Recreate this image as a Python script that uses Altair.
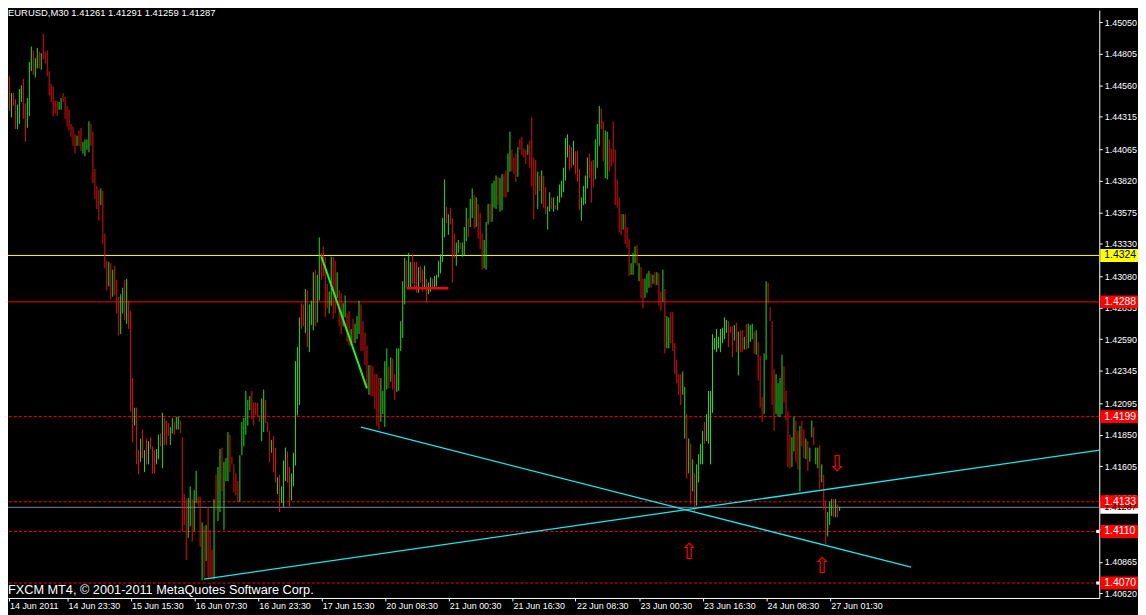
import altair as alt
import pandas as pd

# ---------------- data (EURUSD M30, one value per bar) ----------------
highs = [
    1.4463, 1.4466, 1.4465, 1.4463, 1.4450, 1.4450, 1.4445, 1.4441, 1.4453, 1.4456,
    1.4461, 1.4442, 1.4446, 1.4474, 1.4486, 1.4483, 1.4477, 1.4485, 1.4482, 1.4481,
    1.4496, 1.4482, 1.4483, 1.4467, 1.4457, 1.4455, 1.4444, 1.4444, 1.4443, 1.4446,
    1.4450, 1.4447, 1.4440, 1.4437, 1.4426, 1.4424, 1.4418, 1.4417, 1.4421, 1.4423,
    1.4412, 1.4414, 1.4414, 1.4428, 1.4426, 1.4420, 1.4391, 1.4378, 1.4375, 1.4376,
    1.4374, 1.4341, 1.4320, 1.4319, 1.4318, 1.4313, 1.4316, 1.4305, 1.4292, 1.4294,
    1.4299, 1.4305, 1.4306, 1.4289, 1.4281, 1.4229, 1.4206, 1.4206, 1.4173, 1.4182,
    1.4189, 1.4173, 1.4182, 1.4180, 1.4183, 1.4176, 1.4173, 1.4174, 1.4185, 1.4186,
    1.4202, 1.4198, 1.4196, 1.4194, 1.4191, 1.4198, 1.4195, 1.4199, 1.4199, 1.4196,
    1.4183, 1.4139, 1.4135, 1.4136, 1.4145, 1.4135, 1.4142, 1.4157, 1.4137, 1.4137,
    1.4117, 1.4114, 1.4115, 1.4129, 1.4111, 1.4096, 1.4135, 1.4154, 1.4160, 1.4174,
    1.4175, 1.4164, 1.4167, 1.4187, 1.4185, 1.4168, 1.4162, 1.4155, 1.4149, 1.4169,
    1.4195, 1.4198, 1.4219, 1.4212, 1.4215, 1.4219, 1.4210, 1.4210, 1.4210, 1.4200,
    1.4213, 1.4220, 1.4212, 1.4195, 1.4188, 1.4181, 1.4184, 1.4175, 1.4152, 1.4154,
    1.4145, 1.4165, 1.4175, 1.4172, 1.4160, 1.4155, 1.4171, 1.4242, 1.4253, 1.4276,
    1.4287, 1.4286, 1.4298, 1.4297, 1.4286, 1.4289, 1.4311, 1.4313, 1.4309, 1.4338,
    1.4326, 1.4331, 1.4323, 1.4302, 1.4296, 1.4323, 1.4323, 1.4320, 1.4311, 1.4297,
    1.4295, 1.4287, 1.4293, 1.4279, 1.4281, 1.4267, 1.4275, 1.4271, 1.4277, 1.4289,
    1.4286, 1.4273, 1.4264, 1.4254, 1.4239, 1.4239, 1.4238, 1.4232, 1.4232, 1.4229,
    1.4229, 1.4219, 1.4242, 1.4252, 1.4238, 1.4245, 1.4244, 1.4232, 1.4252, 1.4252,
    1.4273, 1.4304, 1.4322, 1.4320, 1.4326, 1.4319, 1.4325, 1.4319, 1.4319, 1.4315,
    1.4316, 1.4313, 1.4316, 1.4306, 1.4303, 1.4307, 1.4306, 1.4308, 1.4309, 1.4320,
    1.4325, 1.4353, 1.4383, 1.4362, 1.4356, 1.4361, 1.4353, 1.4341, 1.4334, 1.4336,
    1.4334, 1.4334, 1.4346, 1.4361, 1.4353, 1.4368, 1.4376, 1.4371, 1.4369, 1.4364,
    1.4357, 1.4341, 1.4336, 1.4350, 1.4364, 1.4364, 1.4380, 1.4382, 1.4386, 1.4385,
    1.4384, 1.4387, 1.4387, 1.4390, 1.4403, 1.4420, 1.4406, 1.4400, 1.4403, 1.4408,
    1.4414, 1.4416, 1.4407, 1.4406, 1.4410, 1.4413, 1.4431, 1.4400, 1.4398, 1.4389,
    1.4386, 1.4390, 1.4386, 1.4377, 1.4362, 1.4373, 1.4369, 1.4369, 1.4363, 1.4370,
    1.4379, 1.4382, 1.4392, 1.4415, 1.4418, 1.4410, 1.4408, 1.4413, 1.4405, 1.4405,
    1.4391, 1.4369, 1.4378, 1.4386, 1.4400, 1.4403, 1.4397, 1.4398, 1.4414, 1.4426,
    1.4440, 1.4438, 1.4428, 1.4421, 1.4420, 1.4414, 1.4407, 1.4428, 1.4406, 1.4383,
    1.4369, 1.4356, 1.4356, 1.4356, 1.4346, 1.4337, 1.4318, 1.4326, 1.4331, 1.4332,
    1.4318, 1.4315, 1.4306, 1.4306, 1.4310, 1.4312, 1.4310, 1.4309, 1.4311, 1.4311,
    1.4310, 1.4296, 1.4313, 1.4298, 1.4277, 1.4276, 1.4280, 1.4280, 1.4256, 1.4243,
    1.4232, 1.4232, 1.4234, 1.4222, 1.4201, 1.4182, 1.4178, 1.4166, 1.4155, 1.4162,
    1.4170, 1.4178, 1.4188, 1.4195, 1.4201, 1.4219, 1.4219, 1.4263, 1.4260, 1.4267,
    1.4261, 1.4267, 1.4268, 1.4276, 1.4274, 1.4273, 1.4269, 1.4269, 1.4270, 1.4272,
    1.4265, 1.4266, 1.4266, 1.4261, 1.4271, 1.4271, 1.4270, 1.4271, 1.4265, 1.4266,
    1.4257, 1.4246, 1.4214, 1.4248, 1.4304, 1.4303, 1.4284, 1.4273, 1.4236, 1.4232,
    1.4225, 1.4229, 1.4247, 1.4238, 1.4219, 1.4203, 1.4185, 1.4183, 1.4199, 1.4196,
    1.4188, 1.4192, 1.4196, 1.4189, 1.4182, 1.4180, 1.4175, 1.4196, 1.4191, 1.4175,
    1.4175, 1.4177, 1.4162, 1.4154, 1.4134, 1.4125, 1.4133, 1.4135, 1.4135, 1.4135,
    1.4131, 1.41291,
]
lows = [
    1.4446, 1.4450, 1.4447, 1.4436, 1.4431, 1.4440, 1.4422, 1.4422, 1.4426, 1.4443,
    1.4430, 1.4412, 1.4423, 1.4432, 1.4467, 1.4464, 1.4462, 1.4469, 1.4469, 1.4468,
    1.4476, 1.4473, 1.4463, 1.4448, 1.4443, 1.4432, 1.4434, 1.4432, 1.4437, 1.4437,
    1.4443, 1.4430, 1.4424, 1.4421, 1.4416, 1.4409, 1.4403, 1.4409, 1.4409, 1.4405,
    1.4403, 1.4401, 1.4406, 1.4404, 1.4409, 1.4380, 1.4368, 1.4360, 1.4351, 1.4363,
    1.4333, 1.4314, 1.4297, 1.4300, 1.4290, 1.4292, 1.4293, 1.4279, 1.4262, 1.4263,
    1.4279, 1.4274, 1.4271, 1.4267, 1.4203, 1.4179, 1.4192, 1.4162, 1.4154, 1.4164,
    1.4167, 1.4156, 1.4162, 1.4162, 1.4174, 1.4155, 1.4155, 1.4162, 1.4166, 1.4176,
    1.4159, 1.4177, 1.4177, 1.4184, 1.4177, 1.4186, 1.4185, 1.4189, 1.4189, 1.4186,
    1.4110, 1.4115, 1.4088, 1.4105, 1.4114, 1.4102, 1.4110, 1.4132, 1.4130, 1.4098,
    1.4072, 1.4074, 1.4087, 1.4074, 1.4074, 1.4073, 1.4073, 1.4126, 1.4118, 1.4125,
    1.4141, 1.4111, 1.4149, 1.4149, 1.4156, 1.4162, 1.4140, 1.4138, 1.4133, 1.4133,
    1.4169, 1.4176, 1.4185, 1.4192, 1.4204, 1.4197, 1.4192, 1.4200, 1.4199, 1.4195,
    1.4180, 1.4187, 1.4194, 1.4187, 1.4164, 1.4171, 1.4156, 1.4148, 1.4139, 1.4125,
    1.4132, 1.4129, 1.4149, 1.4148, 1.4128, 1.4134, 1.4145, 1.4161, 1.4200, 1.4208,
    1.4267, 1.4269, 1.4264, 1.4253, 1.4249, 1.4270, 1.4266, 1.4269, 1.4272, 1.4289,
    1.4305, 1.4308, 1.4276, 1.4283, 1.4279, 1.4285, 1.4275, 1.4279, 1.4291, 1.4269,
    1.4263, 1.4269, 1.4276, 1.4257, 1.4254, 1.4254, 1.4256, 1.4256, 1.4259, 1.4263,
    1.4250, 1.4250, 1.4239, 1.4221, 1.4216, 1.4215, 1.4215, 1.4205, 1.4192, 1.4189,
    1.4195, 1.4201, 1.4191, 1.4220, 1.4221, 1.4226, 1.4220, 1.4212, 1.4218, 1.4219,
    1.4250, 1.4260, 1.4286, 1.4299, 1.4299, 1.4299, 1.4302, 1.4299, 1.4295, 1.4295,
    1.4303, 1.4296, 1.4299, 1.4288, 1.4294, 1.4296, 1.4299, 1.4299, 1.4300, 1.4307,
    1.4310, 1.4319, 1.4338, 1.4349, 1.4340, 1.4348, 1.4303, 1.4322, 1.4316, 1.4326,
    1.4329, 1.4323, 1.4324, 1.4335, 1.4338, 1.4346, 1.4353, 1.4345, 1.4346, 1.4337,
    1.4329, 1.4313, 1.4314, 1.4313, 1.4348, 1.4350, 1.4350, 1.4361, 1.4360, 1.4363,
    1.4358, 1.4359, 1.4369, 1.4369, 1.4373, 1.4389, 1.4389, 1.4387, 1.4381, 1.4385,
    1.4406, 1.4402, 1.4400, 1.4395, 1.4402, 1.4392, 1.4378, 1.4352, 1.4371, 1.4360,
    1.4374, 1.4364, 1.4361, 1.4356, 1.4344, 1.4358, 1.4360, 1.4358, 1.4360, 1.4359,
    1.4365, 1.4369, 1.4373, 1.4382, 1.4400, 1.4390, 1.4392, 1.4394, 1.4387, 1.4381,
    1.4359, 1.4351, 1.4363, 1.4364, 1.4376, 1.4384, 1.4365, 1.4377, 1.4383, 1.4392,
    1.4409, 1.4422, 1.4397, 1.4384, 1.4383, 1.4389, 1.4393, 1.4396, 1.4363, 1.4361,
    1.4342, 1.4340, 1.4344, 1.4333, 1.4330, 1.4308, 1.4309, 1.4309, 1.4318, 1.4316,
    1.4304, 1.4291, 1.4283, 1.4291, 1.4295, 1.4299, 1.4299, 1.4302, 1.4301, 1.4301,
    1.4285, 1.4281, 1.4288, 1.4248, 1.4252, 1.4252, 1.4256, 1.4250, 1.4232, 1.4225,
    1.4216, 1.4208, 1.4216, 1.4182, 1.4151, 1.4155, 1.4131, 1.4141, 1.4125, 1.4130,
    1.4148, 1.4162, 1.4162, 1.4178, 1.4180, 1.4178, 1.4162, 1.4202, 1.4251, 1.4249,
    1.4252, 1.4249, 1.4256, 1.4259, 1.4264, 1.4253, 1.4264, 1.4245, 1.4258, 1.4249,
    1.4231, 1.4249, 1.4249, 1.4251, 1.4251, 1.4252, 1.4257, 1.4259, 1.4248, 1.4247,
    1.4227, 1.4206, 1.4195, 1.4201, 1.4243, 1.4287, 1.4273, 1.4208, 1.4188, 1.4201,
    1.4199, 1.4199, 1.4201, 1.4210, 1.4196, 1.4160, 1.4159, 1.4160, 1.4172, 1.4164,
    1.4158, 1.4141, 1.4176, 1.4167, 1.4166, 1.4157, 1.4164, 1.4183, 1.4177, 1.4162,
    1.4159, 1.4143, 1.4148, 1.4127, 1.4100, 1.4106, 1.4115, 1.4122, 1.4121, 1.4121,
    1.4121, 1.41259,
]
# u = up bar (green), d = down bar (red)
directions = "".join([
    "duddudduuu", "dduuuduudu", "dddddddduu", "dddddddudd", "uuuudddddu",
    "dddududddu", "ududdduddu", "dududdduud", "uddduuduud", "ddduuduudd",
    "ududdduduu", "duuudddddu", "uuuuuddddd", "uuddduddud", "uuudduuuuu",
    "dduduuuduu", "dddduuddud", "duudduduuu", "dddduddddd", "uuuududduu",
    "uuuduudddu", "dduduuduuu", "uuududdduu", "duuuduudud", "dduuuduuud",
    "uudduudddu", "dddduddddu", "dudduududu", "uuuuuddudd", "duuuuddduu",
    "udduuddddd", "dduddduuud", "udduuududu", "dduduudddd", "dduudududu",
    "uuuduuuuuu", "uuuuudddud", "udduduuudu", "ddduuddddu", "uuudddduud",
    "dudduduudu", "ududduuudu", "du",
])

time_labels = ["14 Jun 2011", "14 Jun 23:30", "15 Jun 15:30", "16 Jun 07:30",
               "16 Jun 23:30", "17 Jun 15:30", "20 Jun 08:30", "21 Jun 00:30",
               "21 Jun 16:30", "22 Jun 08:30", "23 Jun 00:30", "23 Jun 16:30",
               "24 Jun 08:30", "27 Jun 01:30"]
time_label_bars = [0, 32, 64, 96, 128, 160, 192, 224, 256, 288, 320, 352, 384, 416]

price_ticks = [1.45050, 1.44805, 1.44560, 1.44315, 1.44065, 1.43820, 1.43575,
               1.43330, 1.43080, 1.42835, 1.42590, 1.42345, 1.42095, 1.41850,
               1.41605, 1.41360, 1.41115, 1.40865, 1.40620]

# horizontal levels
solid_prices = [1.43240, 1.42880, 1.41287]
solid_colors = ["#ffff00", "#ff0000", "#778899"]
dashed_prices = [1.41990, 1.41330, 1.41100, 1.40700]

# price tags on the right (drawn in order; text as it shows in the narrow margin)
tag_prices = [1.43240, 1.42880, 1.41990, 1.41287, 1.41330, 1.41100, 1.40700]
tag_texts = ["1.4324", "1.4288", "1.4199", "1.41287", "1.4133", "1.4110", "1.4070"]
tag_bg = ["#ffff00", "#ff0000", "#ff0000", "#ffffff", "#ff0000", "#ff0000", "#ff0000"]
tag_fg = ["#000000", "#ffffff", "#ffffff", "#000000", "#ffffff", "#ffffff", "#ffffff"]
tag_size = [10.5, 10.5, 10.5, 9, 10.5, 10.5, 10.5]

# trend lines (two anchors each)
trend_id = ["t1", "t1", "t2", "t2"]
trend_bar = [180, 457, 101, 552]
trend_price = [1.41908, 1.40823, 1.40730, 1.41731]
green_bar = [160, 183]
green_price = [1.43233, 1.42209]
seg_bar = [203, 224]
seg_price = [1.42986, 1.42986]

# arrows
arrow_bar = [345, 412, 419.5]
arrow_price = [1.40946, 1.40838, 1.41631]
arrow_sym = ["⇧", "⇧", "⇩"]

# line selection markers
marker_bar = [551, 551]
marker_price = [1.41100, 1.40700]

title_text = "EURUSD,M30  1.41261 1.41291 1.41259 1.41287"
copyright_text = "FXCM MT4, © 2001-2011 MetaQuotes Software Corp."

# ---------------- chart ----------------
W, H = 1099, 592
FONT = "Liberation Sans"
X_MIN, X_MAX = 2.25, 551.75

bars_df = pd.DataFrame({"i": list(range(len(highs))), "high": highs, "low": lows,
                        "dir": list(directions)})

xs = alt.Scale(domain=[X_MIN, X_MAX], nice=False, zero=False)
ys = alt.Scale(domain=[1.40584, 1.451424], nice=False, zero=False)

label_expr = "[" + ",".join("'%s'" % t for t in time_labels) + "][round(datum.value/32)]"
xaxis = alt.Axis(values=[max(b, X_MIN + 0.25) for b in time_label_bars],
                 labelExpr=label_expr, orient="bottom",
                 title=None, grid=False, labelColor="white", tickColor="white",
                 domainColor="white", labelFont=FONT, labelFontSize=9,
                 tickSize=3, labelAlign="left", labelOffset=1, labelPadding=1,
                 labelFlush=False, labelOverlap=False, labelBound=False)
yaxis = alt.Axis(values=price_ticks, format=".5f", orient="right", title=None,
                 grid=False, labelColor="white", tickColor="white",
                 domainColor="white", labelFont=FONT, labelFontSize=9,
                 tickSize=3, labelPadding=2, labelFlush=False,
                 labelOverlap=False, labelBound=False)

bars = alt.Chart(bars_df).mark_rule(strokeWidth=1).encode(
    x=alt.X("i:Q", scale=xs, axis=xaxis),
    y=alt.Y("high:Q", scale=ys, axis=yaxis),
    y2="low:Q",
    color=alt.Color("dir:N", scale=alt.Scale(domain=["u", "d"],
                                             range=["#22dd22", "#e01010"]),
                    legend=None),
)

solid_df = pd.DataFrame({"p": solid_prices, "c": solid_colors})
solid = alt.Chart(solid_df).mark_rule(strokeWidth=1).encode(
    y=alt.Y("p:Q", scale=ys, axis=yaxis),
    color=alt.Color("c:N", scale=None),
)
dashed_df = pd.DataFrame({"p": dashed_prices})
dashed = alt.Chart(dashed_df).mark_rule(strokeWidth=1, strokeDash=[3, 2],
                                          color="#ff0000").encode(
    y=alt.Y("p:Q", scale=ys, axis=yaxis),
)

trend_df = pd.DataFrame({"id": trend_id, "i": trend_bar, "p": trend_price})
trends = alt.Chart(trend_df).mark_line(color="#1ee6e6", strokeWidth=1.3,
                                         clip=True).encode(
    x=alt.X("i:Q", scale=xs, axis=xaxis),
    y=alt.Y("p:Q", scale=ys, axis=yaxis),
    detail="id:N",
)
green_df = pd.DataFrame({"i": green_bar, "p": green_price})
green = alt.Chart(green_df).mark_line(color="#22ee22", strokeWidth=2).encode(
    x=alt.X("i:Q", scale=xs, axis=xaxis),
    y=alt.Y("p:Q", scale=ys, axis=yaxis),
)
seg_df = pd.DataFrame({"i": seg_bar, "p": seg_price})
seg = alt.Chart(seg_df).mark_line(color="#ff0000", strokeWidth=2.5).encode(
    x=alt.X("i:Q", scale=xs, axis=xaxis),
    y=alt.Y("p:Q", scale=ys, axis=yaxis),
)

arrow_df = pd.DataFrame({"i": arrow_bar, "p": arrow_price, "s": arrow_sym})
arrows = alt.Chart(arrow_df).mark_text(font="DejaVu Sans", fontSize=22,
                                         color="#ff0000", baseline="middle",
                                         align="center", dy=1).encode(
    x=alt.X("i:Q", scale=xs, axis=xaxis),
    y=alt.Y("p:Q", scale=ys, axis=yaxis),
    text="s:N",
)

marker_df = pd.DataFrame({"i": marker_bar, "p": marker_price})
markers = alt.Chart(marker_df).mark_square(size=10, color="white", opacity=1,
                                             filled=True).encode(
    x=alt.X("i:Q", scale=xs, axis=xaxis),
    y=alt.Y("p:Q", scale=ys, axis=yaxis),
)

tag_df = pd.DataFrame({"p": tag_prices, "t": tag_texts, "bg": tag_bg, "fg": tag_fg,
                       "fs": tag_size, "order": list(range(len(tag_prices)))})
tag_rect = alt.Chart(tag_df).mark_rect(yOffset=-6.5, y2Offset=6.5).encode(
    x=alt.value(W + 1),
    x2=alt.value(W + 45),
    y=alt.Y("p:Q", scale=ys, axis=yaxis),
    y2="p:Q",
    color=alt.Color("bg:N", scale=None),
    order="order:Q",
)
tag_text = alt.Chart(tag_df).mark_text(font=FONT, align="left",
                                         baseline="middle").encode(
    x=alt.value(W + 5),
    y=alt.Y("p:Q", scale=ys, axis=yaxis),
    text="t:N",
    size=alt.Size("fs:Q", scale=None),
    color=alt.Color("fg:N", scale=None),
    order="order:Q",
)

title_df = pd.DataFrame({"t": [title_text]})
title = alt.Chart(title_df).mark_text(font=FONT, fontSize=9.5, color="white",
                                        align="left", baseline="middle").encode(
    x=alt.value(0), y=alt.value(3), text="t:N")
copy_df = pd.DataFrame({"t": [copyright_text]})
copyright = alt.Chart(copy_df).mark_text(font=FONT, fontSize=12.8, color="white",
                                           align="left", baseline="middle").encode(
    x=alt.value(0), y=alt.value(H - 8), text="t:N")

chart = alt.layer(
    solid, dashed, bars, trends, green, seg, arrows, markers,
    tag_rect, tag_text, title, copyright,
).properties(
    width=W, height=H,
    autosize=alt.AutoSizeParams(type="none"),
    padding={"left": 0, "top": 0, "right": 39, "bottom": 15},
    background="black",
).configure_view(strokeWidth=0)

chart.save("out.html", embed_options={"renderer": "svg", "actions": False})
